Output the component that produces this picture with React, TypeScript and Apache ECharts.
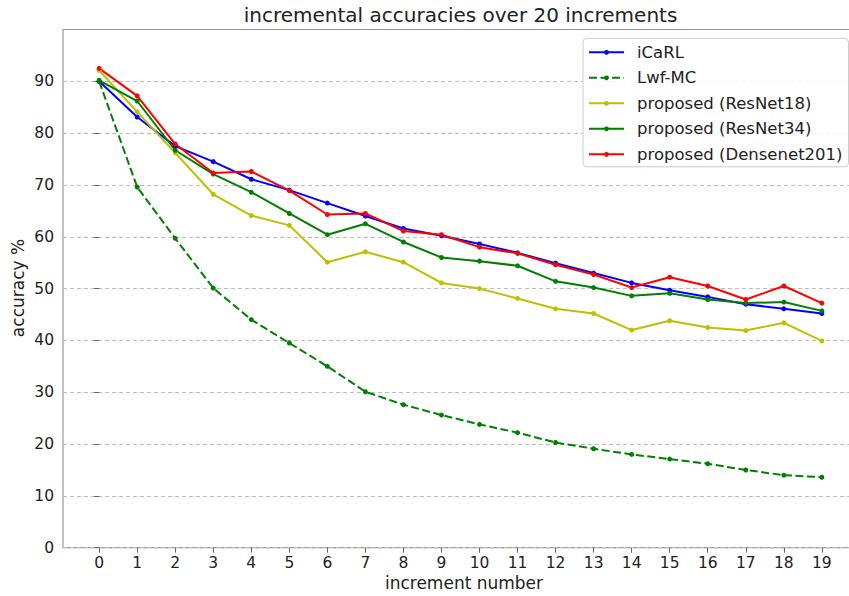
import React, { useEffect, useRef } from "react";
import * as echarts from "echarts";

// increment index on the x axis
const increments = [0, 1, 2, 3, 4, 5, 6, 7, 8, 9, 10, 11, 12, 13, 14, 15, 16, 17, 18, 19];
const yTicks = [0, 10, 20, 30, 40, 50, 60, 70, 80, 90];

// accuracy (%) after each increment
const icarl = [90.0, 83.1, 77.5, 74.5, 71.1, 69.0, 66.5, 64.0, 61.6, 60.2, 58.6, 56.9, 54.9, 53.0, 51.1, 49.7, 48.4, 47.0, 46.1, 45.2];
const lwfMc = [90.0, 69.6, 59.7, 50.1, 44.0, 39.5, 35.0, 30.1, 27.6, 25.6, 23.8, 22.2, 20.3, 19.1, 18.0, 17.1, 16.2, 15.0, 14.0, 13.6];
const resnet18 = [92.1, 84.1, 76.2, 68.2, 64.1, 62.2, 55.1, 57.1, 55.1, 51.1, 50.0, 48.1, 46.1, 45.2, 42.0, 43.8, 42.5, 41.9, 43.4, 39.9];
const resnet34 = [90.2, 86.2, 76.7, 72.1, 68.6, 64.5, 60.4, 62.5, 59.0, 56.0, 55.3, 54.4, 51.4, 50.2, 48.6, 49.1, 47.9, 47.2, 47.4, 45.7];
const densenet201 = [92.5, 87.2, 77.9, 72.3, 72.6, 68.9, 64.3, 64.5, 61.1, 60.4, 58.0, 56.8, 54.6, 52.7, 50.2, 52.2, 50.5, 47.9, 50.5, 47.2];

const FONT = "DejaVu Sans";
const TEXT = "#222";

const lineSeries = (name: string, values: number[], color: string, dashed = false) => ({
  name,
  type: "line",
  data: increments.map((x, i) => [x, values[i]]),
  symbol: "circle",
  symbolSize: 5,
  showSymbol: true,
  itemStyle: { color },
  lineStyle: { color, width: 2, type: dashed ? [8, 3.5] : "solid" },
  emphasis: { disabled: true },
});

export default function App() {
  const ref = useRef<HTMLDivElement>(null);

  useEffect(() => {
    document.body.style.margin = "0";
    if (!ref.current) return;
    const chart = echarts.init(ref.current, undefined, { renderer: "svg" });
    chart.setOption({
      animation: false,
      backgroundColor: "#fff",
      grid: {
        left: 63,
        top: 29.5,
        right: 0,
        bottom: 48.3,
        show: true,
        borderColor: "#999",
        borderWidth: 1.2,
        backgroundColor: "transparent",
      },
      xAxis: {
        type: "value",
        min: -0.95,
        max: 19.95,
        axisLine: { show: false },
        splitLine: { show: false },
        axisTick: {
          show: true,
          customValues: increments,
          length: 5,
          lineStyle: { color: "#666", width: 1 },
        },
        axisLabel: {
          customValues: increments,
          margin: 7,
          fontFamily: FONT,
          fontSize: 15.5,
          color: TEXT,
        },
      },
      yAxis: {
        type: "value",
        min: 0,
        max: 100,
        interval: 10,
        axisLine: { show: false },
        splitLine: {
          show: true,
          lineStyle: { color: "#bdbdbd", type: [4, 3], width: 1 },
        },
        axisTick: {
          show: true,
          customValues: yTicks,
          length: 5,
          lineStyle: { color: "#666", width: 1 },
        },
        axisLabel: {
          customValues: yTicks,
          margin: 9,
          fontFamily: FONT,
          fontSize: 15.5,
          color: TEXT,
        },
      },
      legend: {
        orient: "vertical",
        left: 583,
        top: 38.3,
        padding: [4.5, 6, 3, 5],
        itemWidth: 35,
        itemHeight: 6,
        itemGap: 6.5,
        backgroundColor: "rgba(255,255,255,0.85)",
        borderColor: "#cccccc",
        borderWidth: 1,
        borderRadius: 4,
        textStyle: {
          fontFamily: FONT,
          fontSize: 16.5,
          lineHeight: 19,
          color: TEXT,
          padding: [0, 0, 0, 8],
        },
      },
      graphic: [
        {
          type: "text",
          x: 460.5,
          y: 15,
          style: {
            text: "incremental accuracies over 20 increments",
            fontFamily: FONT,
            fontSize: 20,
            fill: TEXT,
            align: "center",
            verticalAlign: "middle",
          },
        },
        {
          type: "text",
          x: 464,
          y: 583,
          style: {
            text: "increment number",
            fontFamily: FONT,
            fontSize: 17,
            fill: TEXT,
            align: "center",
            verticalAlign: "middle",
          },
        },
        {
          type: "text",
          x: 18,
          y: 288,
          rotation: Math.PI / 2,
          style: {
            text: "accuracy %",
            fontFamily: FONT,
            fontSize: 17,
            fill: TEXT,
            align: "center",
            verticalAlign: "middle",
          },
        },
      ],
      series: [
        lineSeries("iCaRL", icarl, "#0000ff"),
        lineSeries("Lwf-MC", lwfMc, "#008000", true),
        lineSeries("proposed (ResNet18)", resnet18, "#bfbf00"),
        lineSeries("proposed (ResNet34)", resnet34, "#008000"),
        lineSeries("proposed (Densenet201)", densenet201, "#ff0000"),
      ],
    });
    return () => chart.dispose();
  }, []);

  // The plot frame runs a little past the visible right edge, so the chart
  // is wider than its clipping container.
  return (
    <div style={{ width: 849, height: 596, overflow: "hidden", position: "relative" }}>
      <div ref={ref} style={{ width: 858, height: 596 }} />
    </div>
  );
}
